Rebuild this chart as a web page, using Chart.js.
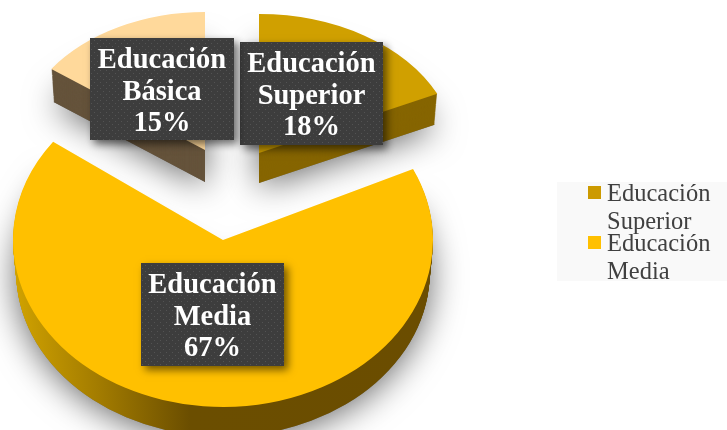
<!DOCTYPE html>
<html>
<head>
<meta charset="utf-8">
<style>
  html, body { margin: 0; background: #fff; }
  canvas { display: block; }
</style>
<script src="https://cdn.jsdelivr.net/npm/chart.js@4/dist/chart.umd.min.js"></script>
</head>
<body>
<canvas id="chart" width="727" height="430"></canvas>
<script>
const categories = ["Educación Superior", "Educación Media", "Educación Básica"];
const shares = [18, 67, 15];
const sliceColors = ["#d0a000", "#ffc000", "#ffd99b"];
const legendColors = ["#cc9a00", "#ffc000"];

/* where each slice lands on the page: apex and flattened radii */
const sliceView = [
  { x: 259, y: 153, rx: 197, ry: 139, depth: 30, side: ["#866500"] },
  { x: 223, y: 240, rx: 210, ry: 167, depth: 32, side: ["#d0a200", "#a37c00", "#6b4e00", "#6b4d00"] },
  { x: 205, y: 150, rx: 190, ry: 138, depth: 32, side: ["#65533b"] }
];
const labelBoxes = [
  { x: 240, y: 42, w: 143, h: 103 },
  { x: 141, y: 263, w: 143, h: 103 },
  { x: 90, y: 38, w: 144, h: 102 }
];

const labelFont = "bold 28.5px 'Liberation Serif'";
const legendFont = "24.5px 'Liberation Serif'";

function sliceTransform(ctx, el, view, extra) {
  const R = el.outerRadius;
  ctx.translate(view.x, view.y + extra.dy);
  ctx.scale(view.rx / R * extra.k, view.ry / R * extra.k);
  ctx.translate(-el.x, -el.y);
}

function sideFill(ctx, el, view) {
  if (view.side.length === 1) return view.side[0];
  const R = el.outerRadius;
  const g = ctx.createLinearGradient(el.x - R, 0, el.x + R, 0);
  g.addColorStop(0, view.side[0]);
  g.addColorStop(0.2, view.side[1]);
  g.addColorStop(0.42, view.side[2]);
  g.addColorStop(1, view.side[3]);
  return g;
}

function drawAs(ctx, el, fill) {
  const ghost = Object.create(el);
  ghost.options = { ...el.options, backgroundColor: fill };
  ghost.draw(ctx);
}

const pie3d = {
  id: "pie3d",
  beforeDatasetDraw(chart) {
    const ctx = chart.ctx;
    const arcs = chart.getDatasetMeta(0).data;

    // soft shadow under everything first
    arcs.forEach((el, i) => {
      const view = sliceView[i];
      ctx.save();
      ctx.shadowColor = "rgba(0,0,0,0.6)";
      ctx.shadowBlur = 34;
      ctx.shadowOffsetY = 4;
      sliceTransform(ctx, el, view, { dy: view.depth, k: 0.985 });
      drawAs(ctx, el, "#777");
      ctx.restore();
    });

    // side walls, then the top face
    arcs.forEach((el, i) => {
      const view = sliceView[i];
      const fill = sideFill(ctx, el, view);
      for (let d = view.depth; d > 0; d--) {
        ctx.save();
        sliceTransform(ctx, el, view, { dy: d, k: 1 - 0.015 * d / view.depth });
        drawAs(ctx, el, fill);
        ctx.restore();
      }
      ctx.save();
      sliceTransform(ctx, el, view, { dy: 0, k: 1 });
      el.draw(ctx);
      ctx.restore();
    });
    return false;
  },
  afterDraw(chart) {
    const ctx = chart.ctx;

    // legend, lines overlap like the original
    ctx.save();
    ctx.fillStyle = "#f9f9f9";
    ctx.fillRect(557, 182, 170, 99);
    ctx.font = legendFont;
    ctx.textAlign = "left";
    ctx.textBaseline = "alphabetic";
    legendColors.forEach((color, i) => {
      const top = 186 + i * 50;
      const lines = categories[i].split(" ");
      ctx.fillStyle = color;
      ctx.fillRect(588, top, 13, 13);
      ctx.fillStyle = "#404040";
      ctx.fillText(lines[0], 607, top + 15);
      ctx.fillText(lines[1], 607, top + 43);
    });
    ctx.restore();

    // data labels
    const dots = document.createElement("canvas");
    dots.width = 6;
    dots.height = 6;
    const d = dots.getContext("2d");
    d.fillStyle = "#3d3d3d";
    d.fillRect(0, 0, 6, 6);
    d.fillStyle = "#535353";
    d.fillRect(1, 1, 1, 1);
    d.fillRect(4, 4, 1, 1);
    const pattern = ctx.createPattern(dots, "repeat");

    labelBoxes.forEach((box, i) => {
      ctx.save();
      ctx.shadowColor = "rgba(0,0,0,0.55)";
      ctx.shadowBlur = 8;
      ctx.shadowOffsetX = 4;
      ctx.shadowOffsetY = 4;
      ctx.fillStyle = "#3d3d3d";
      ctx.fillRect(box.x, box.y, box.w, box.h);
      ctx.restore();
      ctx.fillStyle = pattern;
      ctx.fillRect(box.x, box.y, box.w, box.h);

      ctx.save();
      ctx.font = labelFont;
      ctx.fillStyle = "#fff";
      ctx.textAlign = "center";
      ctx.textBaseline = "alphabetic";
      const lines = categories[i].split(" ").concat(shares[i] + "%");
      lines.forEach((line, n) => {
        ctx.fillText(line, box.x + box.w / 2, box.y + 30 + n * 31.5);
      });
      ctx.restore();
    });
  }
};

new Chart(document.getElementById("chart"), {
  type: "pie",
  data: {
    labels: categories,
    datasets: [{
      data: shares,
      backgroundColor: sliceColors,
      borderWidth: 0
    }]
  },
  options: {
    responsive: false,
    animation: false,
    plugins: {
      legend: { display: false },
      tooltip: { enabled: false }
    }
  },
  plugins: [pie3d]
});
</script>
</body>
</html>
